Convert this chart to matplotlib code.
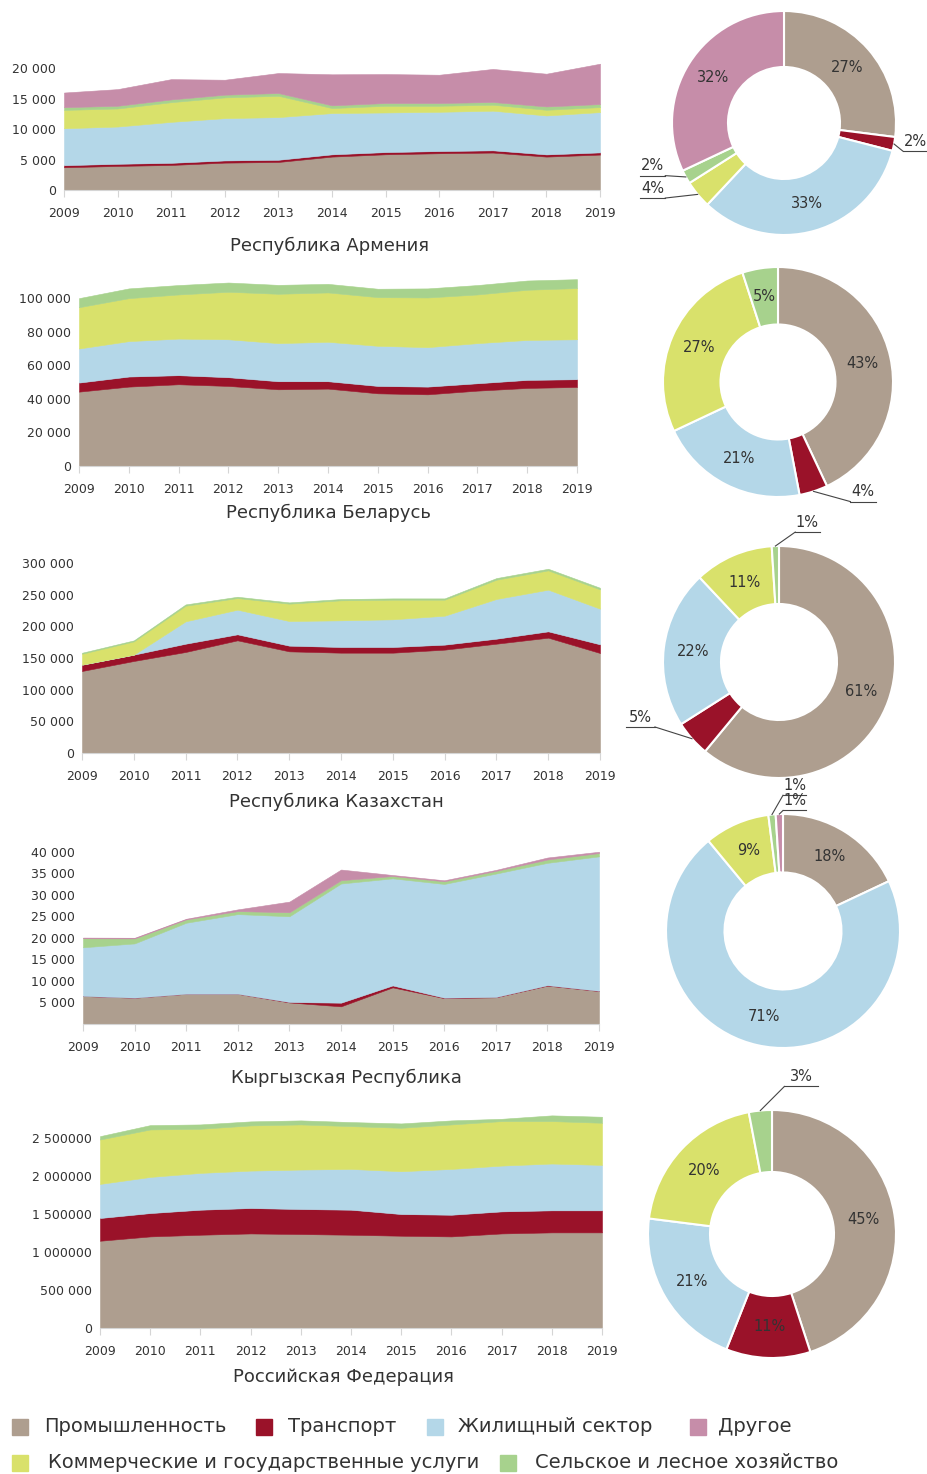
import numpy as np
import matplotlib
matplotlib.use("Agg")
import matplotlib.pyplot as plt
from matplotlib.patches import Rectangle

W, H = 927, 1474
TXT = "#333333"

years = list(range(2009, 2020))

# order: industry, transport, housing, commercial, agri, other
sectors = ["Промышленность", "Транспорт", "Жилищный сектор",
           "Коммерческие и государственные услуги",
           "Сельское и лесное хозяйство", "Другое"]
colors = ["#ae9e8f", "#9a1229", "#b4d7e8", "#d9e16b", "#a7d28d", "#c68da9"]

# Республика Армения
arm_industry = [3730, 3950, 4110, 4490, 4600, 5480, 5860, 6030, 6140, 5480, 5810]
arm_transport = [340, 350, 350, 360, 360, 370, 360, 360, 370, 360, 360]
arm_housing = [6060, 6110, 6720, 6940, 7000, 6770, 6500, 6440, 6500, 6390, 6610]
arm_commercial = [3010, 2960, 3230, 3400, 3500, 820, 1100, 990, 980, 930, 820]
arm_agri = [450, 450, 450, 450, 450, 450, 450, 450, 450, 550, 500]
arm_other = [2400, 2730, 3330, 2450, 3280, 5090, 4750, 4640, 5420, 5370, 6620]
arm_share = [27, 2, 33, 4, 2, 32]

# Республика Беларусь
bel_industry = [44300, 47300, 48700, 47700, 45700, 46100, 43300, 42700, 44900, 46500, 47100]
bel_transport = [5400, 6000, 5400, 5200, 4800, 4400, 4400, 4600, 4400, 4800, 4600]
bel_housing = [20300, 21100, 21800, 22600, 22700, 23500, 23900, 23500, 23900, 23800, 23800]
bel_commercial = [24600, 25600, 26300, 28300, 29400, 29400, 29000, 29600, 29000, 29900, 30500]
bel_agri = [5400, 5800, 5600, 5500, 5300, 5100, 5000, 5400, 5600, 5500, 5300]
bel_other = [0, 0, 0, 0, 0, 0, 0, 0, 0, 0, 0]
bel_share = [43, 4, 21, 27, 5, 0]

# Республика Казахстан
kaz_industry = [129500, 145300, 159500, 177900, 160500, 158400, 158400, 163200, 172600, 182100, 157900]
kaz_transport = [10000, 10000, 13100, 9500, 9000, 9000, 9000, 7900, 7900, 10000, 13700]
kaz_housing = [0, 0, 35300, 38900, 38900, 42100, 43700, 45700, 62700, 65800, 56300]
kaz_commercial = [17300, 21000, 24700, 18400, 27400, 31600, 31000, 25300, 30500, 30500, 30500]
kaz_agri = [1500, 1500, 2000, 2000, 2000, 2000, 2000, 2000, 2500, 2500, 2500]
kaz_other = [0, 0, 0, 0, 0, 0, 0, 0, 0, 0, 0]
kaz_share = [61, 5, 22, 11, 1, 0]

# Кыргызская Республика
kgz_industry = [6500, 6100, 7000, 7000, 5000, 4100, 8500, 6000, 6200, 8900, 7650]
kgz_transport = [0, 0, 0, 0, 100, 850, 450, 100, 50, 100, 50]
kgz_housing = [11300, 12600, 16500, 18500, 19900, 27650, 24850, 26400, 28650, 28400, 31200]
kgz_commercial = [0, 0, 0, 0, 0, 0, 0, 0, 0, 0, 0]
kgz_agri = [2100, 1160, 770, 700, 930, 770, 540, 620, 620, 770, 770]
kgz_other = [150, 150, 150, 400, 2470, 2470, 230, 230, 230, 460, 300]
kgz_share = [18, 0, 71, 9, 1, 1]

# Российская Федерация
rus_industry = [1147000, 1204000, 1226000, 1243000, 1235000, 1226000, 1213000, 1204000, 1243000, 1257000, 1257000]
rus_transport = [299000, 307000, 329000, 334000, 329000, 329000, 285000, 285000, 290000, 290000, 290000]
rus_housing = [448000, 475000, 484000, 492000, 519000, 536000, 563000, 602000, 602000, 615000, 597000]
rus_commercial = [584000, 624000, 580000, 594000, 593000, 563000, 571000, 585000, 585000, 558000, 554000]
rus_agri = [44000, 57000, 57000, 53000, 53000, 53000, 57000, 53000, 30000, 75000, 79000]
rus_other = [0, 0, 0, 0, 0, 0, 0, 0, 0, 0, 0]
rus_share = [45, 11, 21, 20, 3, 0]

arm_yticks = [0, 5000, 10000, 15000, 20000]
bel_yticks = [0, 20000, 40000, 60000, 80000, 100000]
kaz_yticks = [0, 50000, 100000, 150000, 200000, 250000, 300000]
kgz_yticks = [5000, 10000, 15000, 20000, 25000, 30000, 35000, 40000]
rus_yticks = [0, 500000, 1000000, 1500000, 2000000, 2500000]
rus_ylabels = ["0", "500 000", "1 000000", "1 500000", "2 000000", "2 500000"]


def fmt(v):
    return f"{v:,}".replace(",", " ")


fig = plt.figure(figsize=(W / 100, H / 100), dpi=100)


def px_axes(l, t, r, b):
    return fig.add_axes([l / W, 1 - b / H, (r - l) / W, (b - t) / H])


def area(box, series, ymax, yticks, ylabels, title, tx, ty):
    ax = px_axes(*box)
    polys = ax.stackplot(years, *series, colors=colors, linewidth=0)
    for p, s, c in zip(polys, series, colors):
        if max(s) > 0:
            p.set_edgecolor(c)
            p.set_linewidth(0.4)
    ax.set_xlim(2009, 2019)
    ax.set_ylim(0, ymax)
    for s in ["top", "right", "left"]:
        ax.spines[s].set_visible(False)
    ax.spines["bottom"].set_color("#d5d5d5")
    ax.set_xticks(years)
    ax.set_yticks(yticks)
    ax.set_yticklabels(ylabels)
    ax.tick_params(axis="y", length=0, pad=6, labelsize=9, labelcolor=TXT)
    ax.tick_params(axis="x", length=5, color="#d5d5d5", pad=7, labelsize=9, labelcolor=TXT)
    fig.text(tx / W, 1 - ty / H, title, ha="center", va="center", fontsize=13, color=TXT)
    return ax


def donut(cx, cy, r, shares, outside):
    ax = px_axes(cx - r, cy - r, cx + r, cy + r)
    idx = [i for i, v in enumerate(shares) if v > 0]
    wedges, _ = ax.pie([shares[i] for i in idx], colors=[colors[i] for i in idx],
                       startangle=90, counterclock=False, radius=1,
                       wedgeprops=dict(width=0.5, edgecolor="white", linewidth=1.5))
    ax.set_xlim(-1, 1)
    ax.set_ylim(-1, 1)
    ax.axis("off")
    for w, i in zip(wedges, idx):
        mid = np.deg2rad((w.theta1 + w.theta2) / 2)
        lab = f"{shares[i]}%"
        if i in outside:
            x0, x1, y = outside[i]
            px, py = np.cos(mid), np.sin(mid)
            ex = x0 if abs(x0 - px) < abs(x1 - px) else x1
            ax.plot([x0, x1], [y, y], color="#444444", lw=0.8, clip_on=False)
            ax.plot([px, ex], [py, y], color="#444444", lw=0.8, clip_on=False)
            ax.text((x0 + x1) / 2, y + 0.02, lab, ha="center", va="bottom",
                    fontsize=10.5, color=TXT)
        else:
            ax.text(0.75 * np.cos(mid), 0.75 * np.sin(mid), lab, ha="center",
                    va="center", fontsize=10.5, color=TXT)


area((64, 62, 600, 190),
     [arm_industry, arm_transport, arm_housing, arm_commercial, arm_agri, arm_other],
     21000, arm_yticks, [fmt(v) for v in arm_yticks], "Республика Армения", 330, 246)
donut(784, 123, 112, arm_share,
      {1: (1.06, 1.28, -0.25), 3: (-1.29, -1.06, -0.67), 4: (-1.29, -1.06, -0.47)})

area((79, 278, 577, 466),
     [bel_industry, bel_transport, bel_housing, bel_commercial, bel_agri, bel_other],
     112000, bel_yticks, [fmt(v) for v in bel_yticks], "Республика Беларусь", 329, 513)
donut(778, 382, 115, bel_share, {1: (0.63, 0.85, -1.04)})

area((82, 563, 600, 753),
     [kaz_industry, kaz_transport, kaz_housing, kaz_commercial, kaz_agri, kaz_other],
     300000, kaz_yticks, [fmt(v) for v in kaz_yticks], "Республика Казахстан", 336, 802)
donut(779, 662, 116, kaz_share, {4: (0.14, 0.35, 1.12), 1: (-1.32, -1.07, -0.56)})

area((83, 843, 599, 1024),
     [kgz_industry, kgz_transport, kgz_housing, kgz_commercial, kgz_agri, kgz_other],
     42000, kgz_yticks, [fmt(v) for v in kgz_yticks], "Кыргызская Республика", 346, 1078)
donut(783, 931, 117, kgz_share, {4: (0.0, 0.2, 1.16), 5: (0.0, 0.2, 1.03)})

area((100, 1115, 602, 1328),
     [rus_industry, rus_transport, rus_housing, rus_commercial, rus_agri, rus_other],
     2800000, rus_yticks, rus_ylabels, "Российская Федерация", 343, 1377)
donut(772, 1234, 124, rus_share, {4: (0.10, 0.37, 1.19)})

# legend
legend_pos = [(0, 12, 44, 1427), (1, 256, 288, 1427), (2, 427, 458, 1427), (5, 690, 718, 1427),
              (3, 12, 48, 1463), (4, 500, 535, 1463)]
for i, sx, tx, y in legend_pos:
    fig.patches.append(Rectangle((sx / W, 1 - (y + 8) / H), 16 / W, 16 / H,
                                 transform=fig.transFigure, color=colors[i]))
    fig.text(tx / W, 1 - y / H, sectors[i], ha="left", va="center", fontsize=14, color=TXT)

fig.savefig("out.png", dpi=100)
